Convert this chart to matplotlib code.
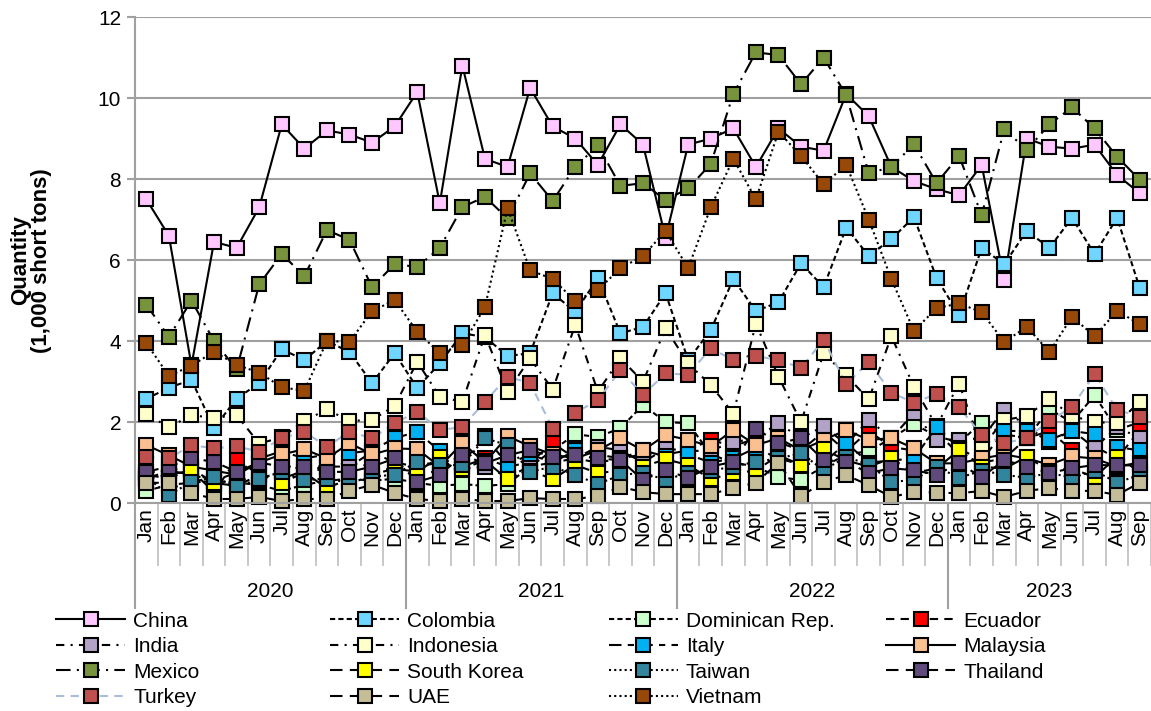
import matplotlib.pyplot as plt

plt.rcParams['font.family'] = ['Liberation Sans', 'DejaVu Sans']

months = ['Jan', 'Feb', 'Mar', 'Apr', 'May', 'Jun', 'Jul', 'Aug', 'Sep', 'Oct', 'Nov', 'Dec']
years = ['2020', '2021', '2022', '2023']
month_labels = months * 3 + months[:9]

# monthly quantities, 1,000 short tons, Jan 2020 - Sep 2023
china = [7.5, 6.6, 3.4, 6.45, 6.3, 7.3, 9.35, 8.75, 9.2, 9.1, 8.9, 9.3,
         10.15, 7.4, 10.8, 8.5, 8.3, 10.25, 9.3, 9.0, 8.35, 9.35, 8.85, 6.55,
         8.85, 9.0, 9.25, 8.3, 9.25, 8.8, 8.7, 10.1, 9.55, 8.3, 7.95, 7.75,
         7.6, 8.35, 5.5, 9.0, 8.8, 8.75, 8.85, 8.1, 7.65]
colombia = [2.57, 2.85, 3.04, 1.85, 2.58, 2.96, 3.8, 3.53, 4.0, 3.73, 2.96, 3.7,
            2.84, 3.45, 4.19, 4.1, 3.63, 3.7, 5.18, 4.72, 5.55, 4.19, 4.35, 5.18,
            3.53, 4.27, 5.53, 4.74, 4.96, 5.92, 5.33, 6.8, 6.1, 6.52, 7.06, 5.56,
            4.64, 6.3, 5.9, 6.72, 6.3, 7.04, 6.15, 7.04, 5.31]
dominican = [0.3, 0.45, 0.5, 0.55, 0.5, 0.45, 0.3, 0.45, 0.55, 0.6, 0.55, 0.6,
             0.5, 0.42, 0.47, 0.42, 0.47, 0.9, 1.3, 1.7, 1.63, 1.85, 2.42, 2.0,
             1.97, 1.2, 1.0, 0.9, 0.64, 0.57, 0.9, 1.2, 1.28, 1.6, 1.95, 1.65,
             1.5, 1.98, 1.7, 1.6, 2.31, 2.0, 2.66, 1.8, 2.0]
ecuador = [0.6, 0.7, 0.8, 0.27, 1.08, 0.7, 0.6, 0.8, 0.9, 0.9, 1.26, 1.0,
           0.9, 1.0, 0.9, 1.1, 0.9, 1.0, 1.48, 1.1, 1.0, 1.1, 1.2, 1.2,
           1.3, 1.56, 1.4, 1.6, 1.5, 1.3, 1.76, 1.28, 1.78, 1.38, 1.3, 1.76,
           1.2, 1.0, 1.1, 1.6, 1.78, 1.31, 1.4, 1.1, 1.8]
india = [0.75, 0.8, 0.9, 0.42, 0.6, 0.55, 0.8, 0.9, 0.9, 1.0, 0.9, 0.8,
         0.7, 0.8, 0.85, 0.9, 0.65, 0.9, 1.0, 1.1, 1.39, 1.3, 1.0, 1.35,
         1.28, 1.3, 1.5, 1.6, 1.97, 1.6, 1.9, 1.45, 2.05, 1.6, 2.22, 1.56,
         1.56, 1.6, 2.3, 1.9, 1.5, 1.8, 1.36, 1.88, 1.6]
indonesia = [2.2, 1.87, 2.17, 2.1, 2.17, 1.47, 1.62, 2.03, 2.31, 2.03, 2.05, 2.4,
             3.49, 2.62, 2.5, 4.15, 2.75, 3.57, 2.8, 4.4, 2.75, 3.57, 3.0, 4.31,
             3.45, 2.91, 2.21, 4.43, 3.12, 2.0, 3.7, 3.15, 2.56, 4.12, 2.87, 1.9,
             2.95, 1.37, 2.05, 2.15, 2.57, 2.15, 2.0, 1.97, 2.5]
italy = [0.6, 0.8, 0.7, 0.55, 0.75, 1.1, 1.28, 1.1, 1.2, 1.23, 1.3, 1.6,
         1.76, 1.28, 1.0, 1.65, 0.95, 1.2, 1.0, 1.3, 1.2, 1.1, 1.3, 1.15,
         1.2, 1.0, 1.1, 1.36, 1.1, 0.95, 1.0, 1.48, 1.0, 1.05, 1.1, 1.88,
         1.35, 1.05, 1.78, 1.78, 1.56, 1.78, 1.7, 1.38, 1.3]
malaysia = [1.43, 1.18, 0.9, 0.8, 0.7, 1.0, 1.2, 1.33, 1.1, 1.48, 1.2, 1.35,
            1.33, 0.9, 1.48, 1.0, 1.65, 1.4, 1.2, 1.1, 1.3, 1.6, 1.3, 1.68,
            1.56, 1.4, 1.8, 1.43, 1.6, 1.3, 1.56, 1.8, 1.56, 1.6, 1.35, 0.98,
            0.98, 1.1, 1.2, 1.1, 0.95, 1.15, 1.1, 0.9, 1.0]
mexico = [4.9, 4.1, 5.0, 4.0, 3.3, 5.4, 6.15, 5.6, 6.74, 6.5, 5.33, 5.9,
          5.83, 6.3, 7.31, 7.56, 7.03, 8.14, 7.46, 8.3, 8.83, 7.83, 7.9, 7.48,
          7.77, 8.37, 10.1, 11.13, 11.06, 10.34, 11.0, 10.07, 8.14, 8.3, 8.86, 7.9,
          8.57, 7.11, 9.23, 8.72, 9.35, 9.77, 9.25, 8.55, 7.98]
south_korea = [0.7, 0.6, 0.85, 0.5, 0.42, 0.7, 0.5, 0.75, 0.37, 0.6, 0.7, 0.85,
               0.77, 1.14, 0.85, 1.05, 0.59, 0.8, 0.59, 0.94, 0.74, 0.8, 0.9, 1.08,
               0.94, 0.59, 0.74, 0.8, 1.18, 0.94, 1.33, 1.05, 0.9, 1.1, 0.75, 0.85,
               1.31, 0.9, 0.85, 1.14, 0.8, 0.85, 0.64, 1.14, 0.77]
taiwan = [0.65, 0.2, 0.52, 0.64, 0.4, 0.6, 0.77, 0.57, 0.6, 0.5, 0.65, 0.7,
          1.02, 0.93, 0.94, 1.6, 1.43, 0.77, 0.9, 0.69, 0.47, 0.69, 0.75, 0.57,
          0.75, 0.8, 0.9, 1.02, 1.1, 1.23, 0.81, 1.14, 0.95, 0.52, 0.57, 0.9,
          0.62, 0.8, 0.7, 0.62, 0.75, 0.62, 0.8, 0.5, 0.7]
thailand = [0.77, 0.9, 1.1, 1.02, 0.77, 1.0, 0.9, 0.9, 0.77, 0.77, 0.9, 1.1,
            0.52, 0.69, 1.18, 0.98, 1.18, 1.31, 1.14, 1.18, 1.1, 1.06, 0.57, 0.81,
            0.62, 0.9, 1.02, 1.84, 1.48, 1.6, 1.06, 1.02, 0.74, 0.86, 0.81, 0.7,
            0.98, 0.64, 1.06, 0.9, 0.74, 0.86, 0.94, 0.93, 0.93]
turkey = [1.14, 1.1, 1.43, 1.35, 1.4, 1.27, 1.6, 1.76, 1.39, 1.76, 1.6, 1.97,
          2.26, 1.8, 1.88, 2.5, 3.12, 2.96, 1.84, 2.23, 2.54, 3.28, 2.67, 3.2,
          3.17, 3.82, 3.53, 3.63, 3.53, 3.34, 4.03, 2.93, 3.49, 2.72, 2.48, 2.69,
          2.36, 1.68, 1.48, 1.6, 2.03, 2.37, 3.19, 2.3, 2.13]
uae = [0.5, 0.5, 0.25, 0.1, 0.1, 0.15, 0.05, 0.1, 0.1, 0.3, 0.45, 0.25,
       0.1, 0.05, 0.1, 0.05, 0.05, 0.12, 0.1, 0.1, 0.17, 0.4, 0.27, 0.22,
       0.22, 0.22, 0.37, 0.5, 1.0, 0.17, 0.52, 0.69, 0.44, 0.15, 0.27, 0.26,
       0.24, 0.3, 0.15, 0.3, 0.37, 0.3, 0.3, 0.2, 0.5]
vietnam = [3.95, 3.14, 3.39, 3.74, 3.41, 3.22, 2.86, 2.77, 4.0, 3.98, 4.74, 5.01,
           4.23, 3.7, 3.9, 4.84, 7.28, 5.75, 5.53, 4.99, 5.26, 5.8, 6.1, 6.72,
           5.8, 7.3, 8.5, 7.5, 9.17, 8.57, 7.87, 8.35, 7.0, 5.53, 4.25, 4.81,
           4.93, 4.71, 3.98, 4.35, 3.73, 4.6, 4.12, 4.74, 4.42]

short_dash = (0, (2.5, 1.5))
dash = (0, (4, 3))
long_dash = (0, (6, 3.5))
dash_dot = (0, (4, 3, 1, 3))
long_short = (0, (6, 3, 3, 3))
long_dot = (0, (7, 3, 1, 3))
dots = (0, (1, 1.5))

# name, values, marker fill, line style, line colour
series = [
    ('China', china, '#FFC7FF', '-', 'black'),
    ('Colombia', colombia, '#6FD6FF', short_dash, 'black'),
    ('Dominican Rep.', dominican, '#CCFFCC', short_dash, 'black'),
    ('Ecuador', ecuador, '#FF0000', dash, 'black'),
    ('India', india, '#B3A2C7', dash_dot, 'black'),
    ('Indonesia', indonesia, '#FFFFCC', dash_dot, 'black'),
    ('Italy', italy, '#00B0F0', long_short, 'black'),
    ('Malaysia', malaysia, '#FAC090', '-', 'black'),
    ('Mexico', mexico, '#77933C', long_dot, 'black'),
    ('South Korea', south_korea, '#FFFF00', long_dash, 'black'),
    ('Taiwan', taiwan, '#31859C', dots, 'black'),
    ('Thailand', thailand, '#604A7B', long_dash, 'black'),
    ('Turkey', turkey, '#C0504D', dash, '#A9BCDA'),
    ('UAE', uae, '#C4BD97', long_dash, 'black'),
    ('Vietnam', vietnam, '#984807', dots, 'black'),
]

fig = plt.figure(figsize=(11.51, 7.11), dpi=100)
ax = fig.add_axes([0.1173, 0.2925, 0.8827, 0.6835])

x = list(range(len(month_labels)))
handles = []
for name, vals, fill, ls, lc in series:
    ln, = ax.plot(x, vals, color=lc, linestyle=ls, linewidth=1.5,
                  marker='s', markersize=9.5, markerfacecolor=fill,
                  markeredgecolor='black', markeredgewidth=1.5, label=name,
                  clip_on=False)
    handles.append(ln)

grid_c = '#A0A0A0'
ax.set_xlim(-0.5, len(x) - 0.5)
ax.set_ylim(0, 12)
ax.set_yticks(range(0, 13, 2))
ax.yaxis.grid(True, color=grid_c, linewidth=1.5)
ax.set_axisbelow(True)
for s in ['top', 'right']:
    ax.spines[s].set_visible(False)
for s in ['left', 'bottom']:
    ax.spines[s].set_color(grid_c)
    ax.spines[s].set_linewidth(1.5)
ax.tick_params(axis='y', labelsize=15, length=6, width=1.5, color=grid_c, pad=4)

ax.set_xticks(x)
ax.set_xticklabels(month_labels, rotation=90, fontsize=15, va='top')
ax.tick_params(axis='x', which='major', length=0, pad=4)
ax.set_xticks([i - 0.5 for i in range(len(x) + 1)], minor=True)
ax.tick_params(axis='x', which='minor', length=45, width=1.2, color='#BFBFBF')

# year group separators and labels
trans = ax.get_xaxis_transform()
for k, yr in enumerate(years):
    start = k * 12 - 0.5
    ax.plot([start, start], [0, -0.216], transform=trans, color=grid_c,
            linewidth=1.5, clip_on=False)
    end = min(start + 12, len(x) - 0.5)
    ax.text((start + end) / 2, -0.183, yr, transform=trans, ha='center',
            va='center', fontsize=15)

fig.text(0.027, 0.634, 'Quantity\n(1,000 short tons)', rotation=90,
         ha='center', va='center', fontsize=16, fontweight='bold',
         linespacing=1.05)

# legend laid out in four fixed-width columns
col_x = [0.049, 0.287, 0.529, 0.770]
for c in range(4):
    idx = list(range(c, len(handles), 4))
    fig.legend([handles[i] for i in idx], [series[i][0] for i in idx],
               loc='upper left', bbox_to_anchor=(col_x[c], 0.1396),
               bbox_transform=fig.transFigure, ncol=1, frameon=False,
               fontsize=15, handlelength=3.3, handletextpad=0.4,
               labelspacing=0.31, borderpad=0, borderaxespad=0, numpoints=1)

fig.savefig('out.png', dpi=100)
